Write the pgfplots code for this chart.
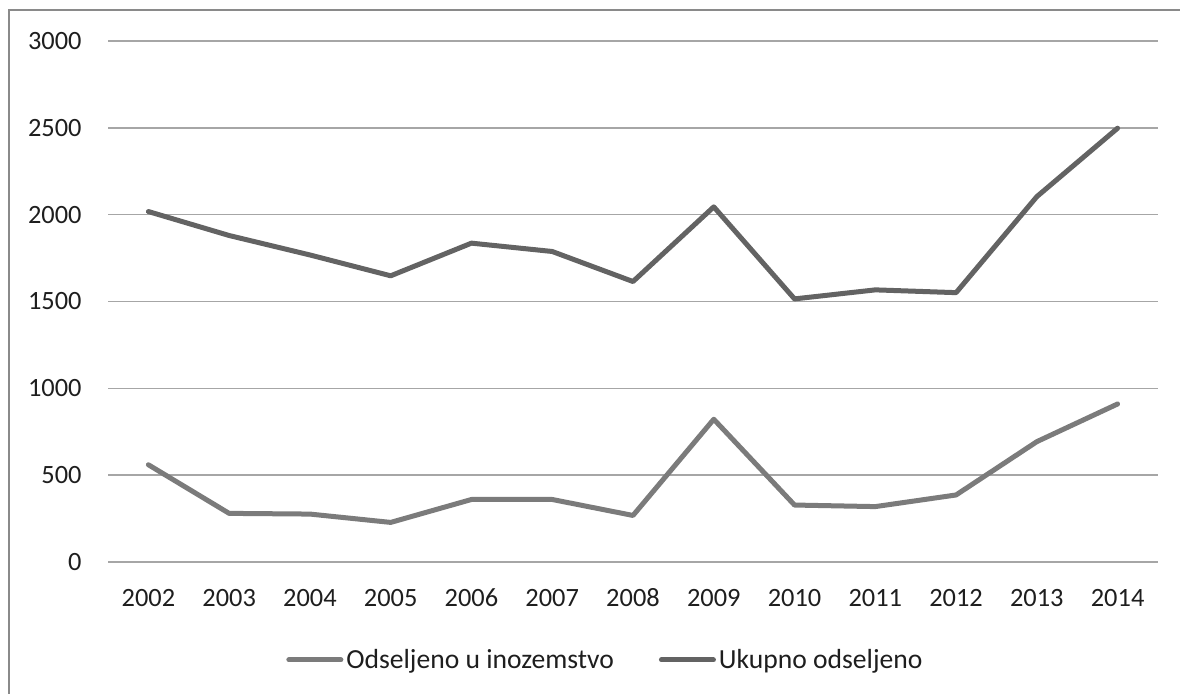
\documentclass[border=0pt]{standalone}
\usepackage{fontspec}
\setmainfont{Carlito}
\usepackage{pgfplots}
\pgfplotsset{compat=1.18}
\definecolor{upper}{HTML}{636363}
\definecolor{lower}{HTML}{7B7B7B}
\definecolor{gridc}{HTML}{A6A6A6}
\definecolor{framec}{HTML}{8A8A8A}
\definecolor{txt}{HTML}{1E1E1E}
\begin{document}
\begin{tikzpicture}
\path[use as bounding box] (0,0) rectangle (590pt,346.5pt);
\draw[framec, line width=0.8pt] (4.5pt,-2pt) -- (4.5pt,341.5pt) -- (595pt,341.5pt);
\begin{axis}[
  at={(54pt,65.5pt)}, anchor=south west,
  scale only axis, width=525pt, height=260.5pt,
  xmin=-0.5, xmax=12.5, ymin=0, ymax=3000,
  xtick={0,...,12},
  xticklabels={2002,2003,2004,2005,2006,2007,2008,2009,2010,2011,2012,2013,2014},
  ytick={0,500,...,3000},
  axis line style={draw=none},
  major tick length=0pt,
  ymajorgrids, grid style={gridc, line width=0.75pt},
  /pgf/number format/assume math mode=true,
  /pgf/number format/1000 sep={},
  tick label style={font=\fontsize{13.2}{16}\selectfont, text=txt},
  yticklabel style={anchor=east, inner sep=0pt, xshift=-13pt},
  xticklabel style={anchor=base, inner sep=0pt, yshift=-22.3pt},
  legend style={draw=none, fill=none, at={(0.1695,-0.188)}, anchor=west,
    inner sep=0pt,
    font=\fontsize{13.8}{16}\selectfont, text=txt,
    nodes={inner sep=1.5pt},
    /tikz/every even column/.append style={column sep=21pt}},
  legend columns=2,
  legend cell align=left,
  legend image code/.code={\draw[#1, line cap=round] (1pt,0pt) -- (27pt,0pt);},
  every axis plot/.append style={line width=2.5pt, line cap=round, line join=round},
]
\addplot[lower, mark=none] coordinates {
(0,560) (1,280) (2,276) (3,228) (4,360) (5,360) (6,268) (7,822) (8,328) (9,319) (10,386) (11,693) (12,910)};
\addlegendentry{Odseljeno u inozemstvo}
\addplot[upper, mark=none] coordinates {
(0,2018) (1,1880) (2,1768) (3,1648) (4,1836) (5,1788) (6,1615) (7,2045) (8,1515) (9,1567) (10,1551) (11,2104) (12,2498)};
\addlegendentry{Ukupno odseljeno}
\end{axis}
\end{tikzpicture}
\end{document}
